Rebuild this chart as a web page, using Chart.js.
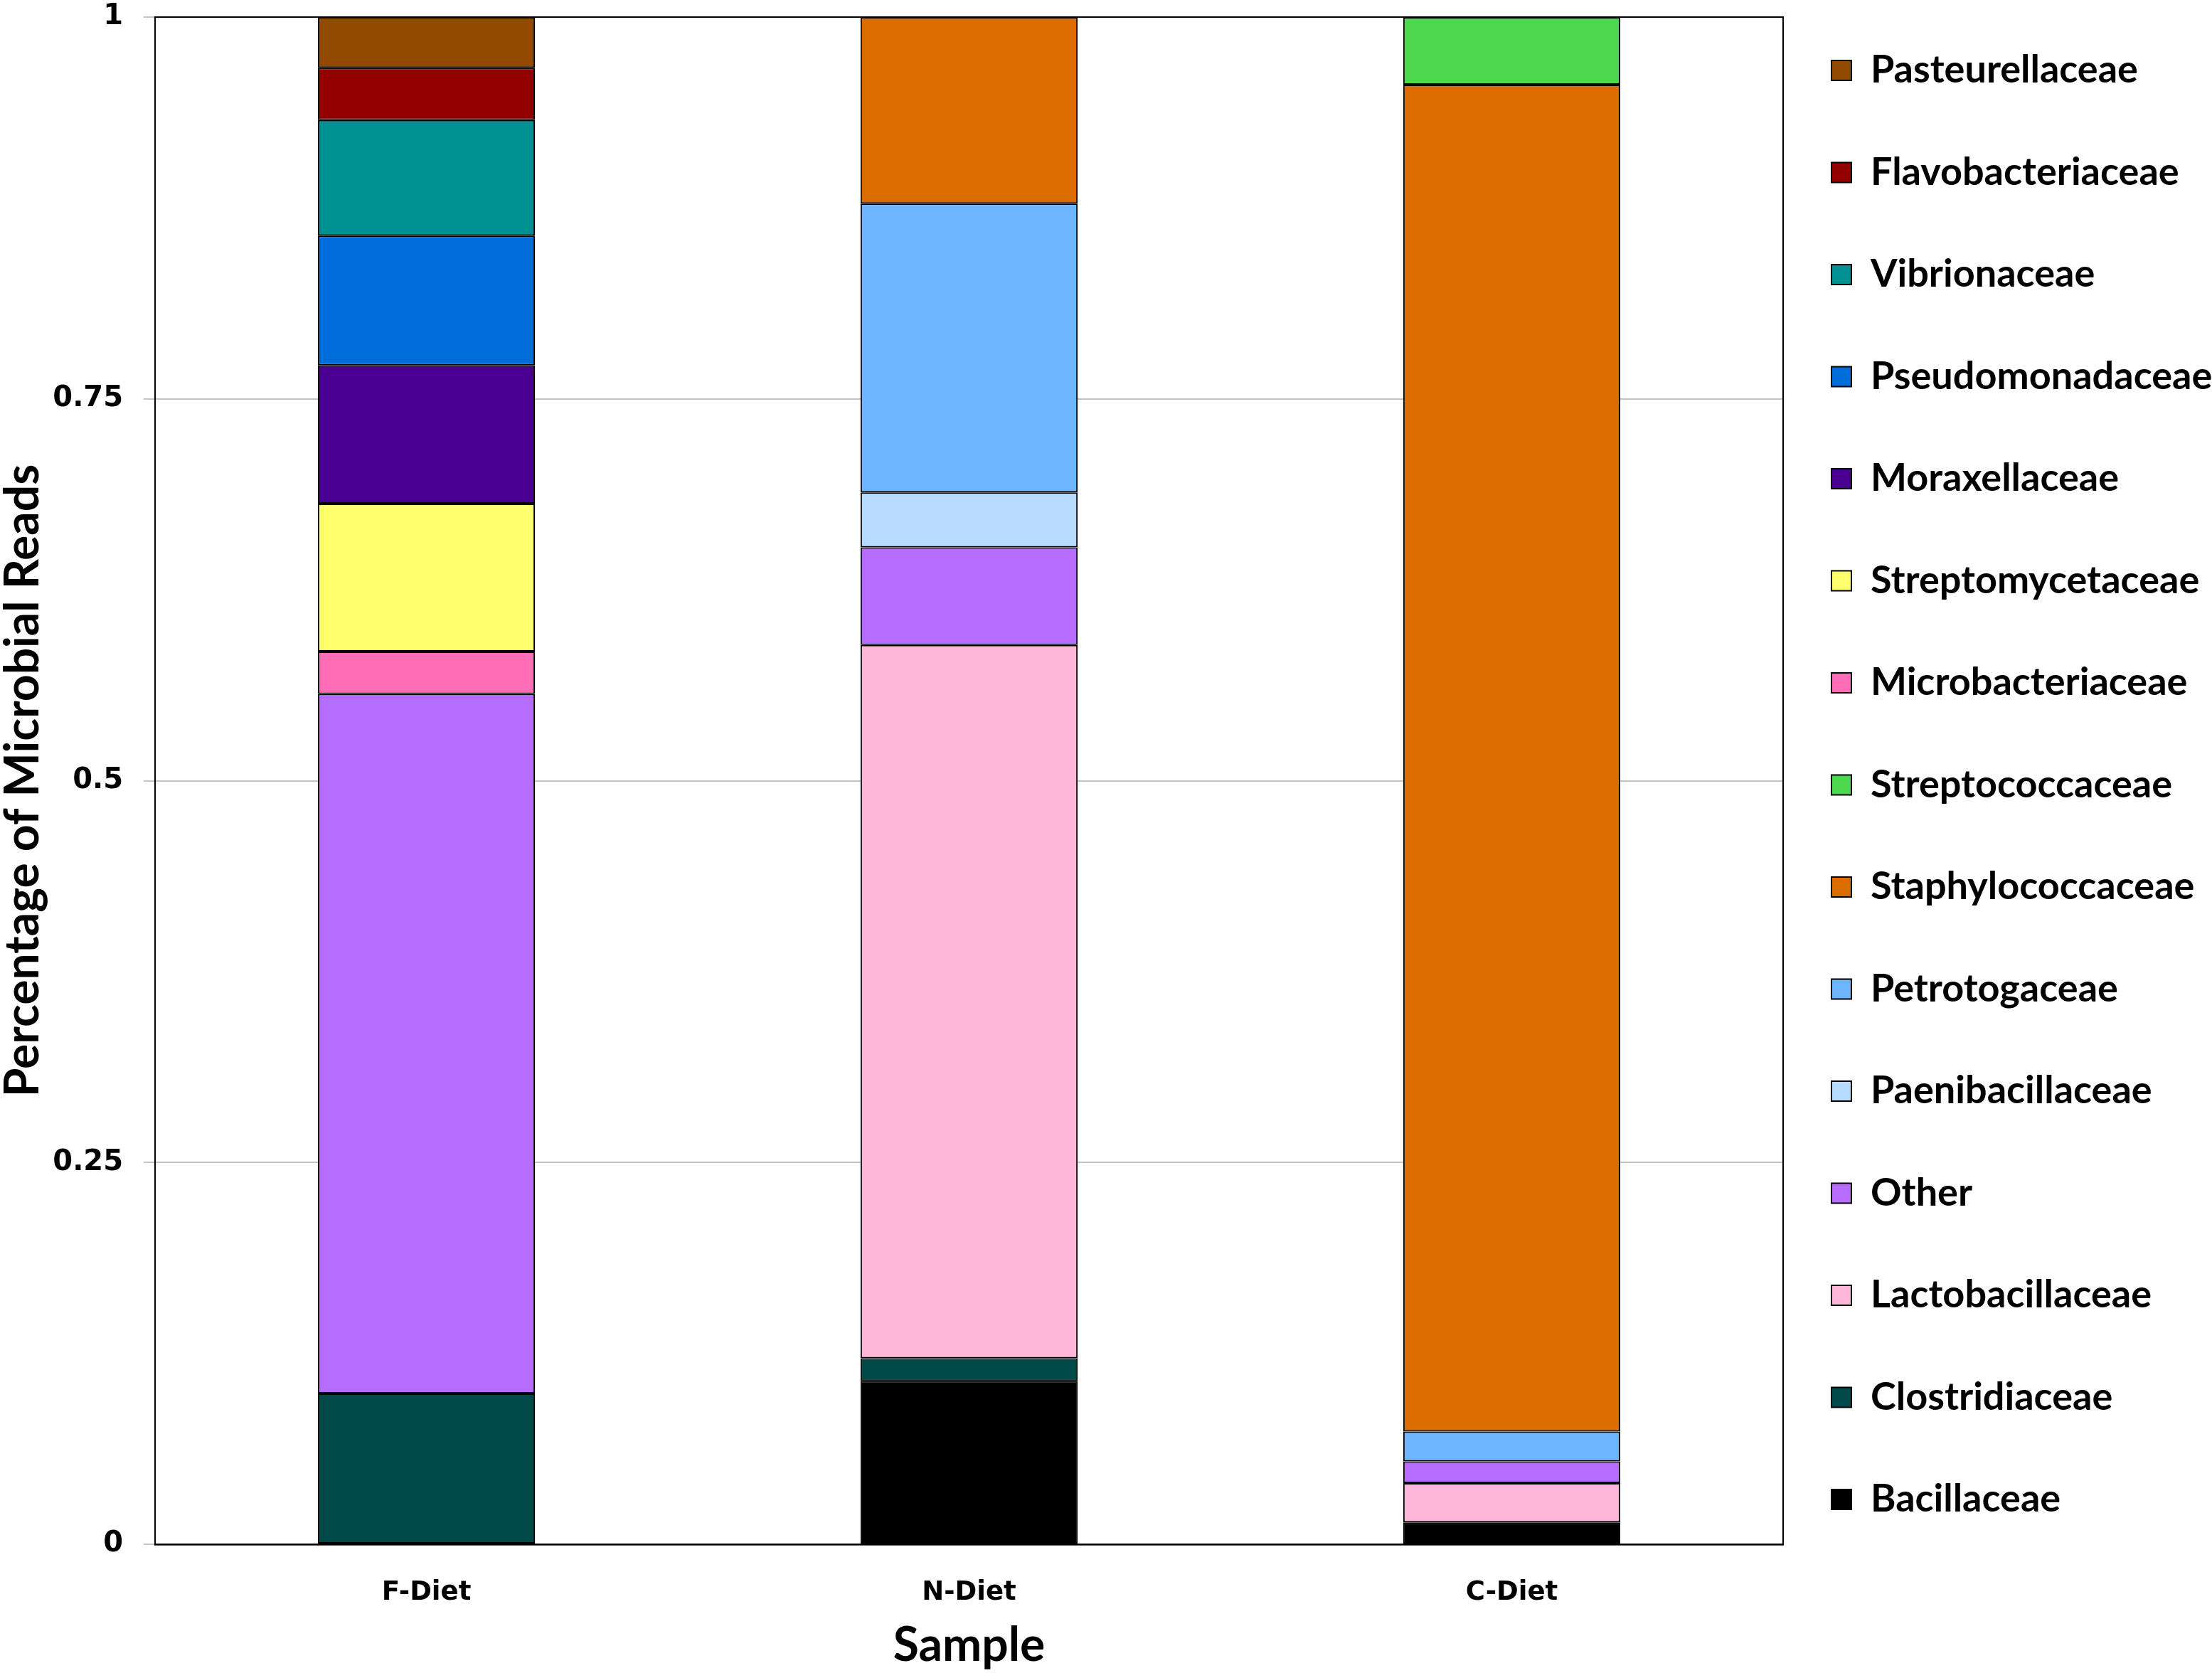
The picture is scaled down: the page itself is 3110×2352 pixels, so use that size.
<!DOCTYPE html>
<html><head><meta charset="utf-8">
<script src="https://cdn.jsdelivr.net/npm/chart.js@4/dist/chart.umd.min.js"></script>
<style>html,body{margin:0;padding:0;background:#fff;} canvas{display:block;}</style>
</head><body>
<canvas id="c" width="3110" height="2352" style="width:3110px;height:2352px"></canvas>
<script>
// ---- data ----
const categories = ['F-Diet', 'N-Diet', 'C-Diet'];
const yTickLabels = ['0', '0.25', '0.5', '0.75', '1'];
// series listed bottom of stack to top
const bacillaceae       = [null,   0.107,  0.0143];
const clostridiaceae    = [0.0988, 0.0148, null];
const lactobacillaceae  = [null,   0.467,  0.0257];
const other             = [0.458,  0.064,  0.0143];
const paenibacillaceae  = [null,   0.036,  null];
const petrotogaceae     = [null,   0.189,  0.0195];
const staphylococcaceae = [null,   0.122,  0.882];
const streptococcaceae  = [null,   null,   0.044];
const microbacteriaceae = [0.0277, null,   null];
const streptomycetaceae = [0.0969, null,   null];
const moraxellaceae     = [0.0905, null,   null];
const pseudomonadaceae  = [0.085,  null,   null];
const vibrionaceae      = [0.0757, null,   null];
const flavobacteriaceae = [0.0342, null,   null];
const pasteurellaceae   = [0.0332, null,   null];

const seriesNames = ['Bacillaceae','Clostridiaceae','Lactobacillaceae','Other','Paenibacillaceae','Petrotogaceae','Staphylococcaceae','Streptococcaceae','Microbacteriaceae','Streptomycetaceae','Moraxellaceae','Pseudomonadaceae','Vibrionaceae','Flavobacteriaceae','Pasteurellaceae'];
const seriesValues = [bacillaceae, clostridiaceae, lactobacillaceae, other, paenibacillaceae, petrotogaceae, staphylococcaceae, streptococcaceae, microbacteriaceae, streptomycetaceae, moraxellaceae, pseudomonadaceae, vibrionaceae, flavobacteriaceae, pasteurellaceae];
const seriesColors = ['#000000','#004949','#ffb6db','#b66dff','#b6dbff','#6db6ff','#db6d00','#4dd94f','#ff6db6','#ffff6d','#490092','#006ddb','#009292','#920000','#924900'];

const datasets = seriesNames.map((name, i) => ({
  label: name,
  data: seriesValues[i],
  backgroundColor: seriesColors[i],
  borderColor: '#000000',
  borderWidth: 2,
  borderSkipped: false,
  barPercentage: 0.4,
  categoryPercentage: 1.0
}));

const framePlugin = {
  id: 'frame',
  afterDatasetsDraw(chart) {
    const {ctx, chartArea: a} = chart;
    ctx.save();
    ctx.strokeStyle = '#000';
    ctx.lineWidth = 2;
    ctx.strokeRect(a.left, a.top, a.right - a.left, a.bottom - a.top);
    ctx.restore();
  }
};

const xTickFont = {family: 'DejaVu Sans', weight: 'bold', size: 37};
const yTickFont = {family: 'DejaVu Sans', weight: 'bold', size: 40};
const titleFont = {family: 'Lato', weight: 'bold', size: 66, lineHeight: 1.0};

new Chart(document.getElementById('c'), {
  type: 'bar',
  data: {labels: categories, datasets},
  plugins: [framePlugin],
  options: {
    responsive: false,
    devicePixelRatio: 1,
    animation: false,
    layout: {padding: {top: 4, left: 0, right: 0, bottom: 0}},
    plugins: {
      tooltip: {enabled: false},
      legend: {
        position: 'right',
        align: 'start',
        reverse: true,
        maxWidth: 603,
        labels: {
          font: {family: 'Lato', weight: 'bold', size: 54, lineHeight: 1.398},
          color: '#000',
          boxWidth: 28,
          boxHeight: 28,
          padding: 68,
          generateLabels(chart) {
            const items = Chart.defaults.plugins.legend.labels.generateLabels(chart);
            return items.map(it => Object.assign(it, {text: [it.text], lineWidth: 2, strokeStyle: '#000'}));
          }
        }
      }
    },
    scales: {
      x: {
        stacked: true,
        grid: {display: false, drawTicks: false},
        border: {display: true, color: '#555555', width: 3},
        ticks: {font: xTickFont, color: '#000', padding: 46},
        title: {display: true, text: 'Sample', font: titleFont, color: '#000', padding: {top: 0, bottom: 5}},
        afterFit(scale) { scale.height = 181; }
      },
      y: {
        stacked: true,
        min: 0,
        max: 1,
        ticks: {
          stepSize: 0.25,
          font: yTickFont,
          color: '#000',
          padding: 29,
          callback: (v, i) => yTickLabels[i]
        },
        grid: {color: '#c4c4c4', lineWidth: 2, tickLength: 16},
        border: {display: true, color: '#000', width: 2},
        title: {display: true, text: 'Percentage of Microbial Reads', font: titleFont, color: '#000', padding: {top: 0, bottom: 0}},
        afterFit(scale) { scale.width = 218; scale.paddingTop = 24; scale.paddingBottom = 0; }
      }
    }
  }
});
</script>
</body></html>
